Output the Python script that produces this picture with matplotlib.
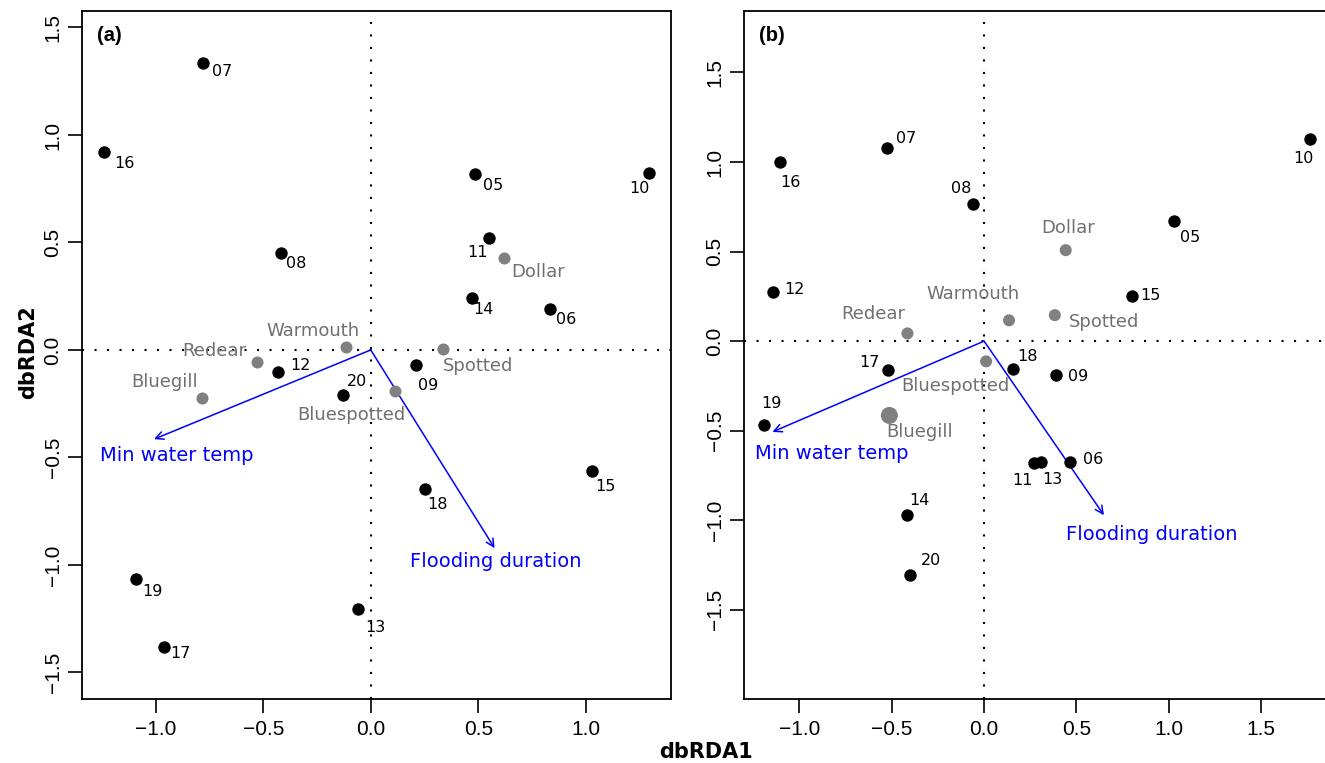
import numpy as np
import matplotlib
matplotlib.use("Agg")
import matplotlib.pyplot as plt
from matplotlib.ticker import FuncFormatter

# site scores, panel (a)
sites_a = ["07", "16", "05", "10", "11", "08", "14", "06", "12", "20", "09", "18", "15", "19", "13", "17"]
xa = [-0.782, -1.240, 0.483, 1.293, 0.552, -0.416, 0.473, 0.834, -0.430, -0.127, 0.211, 0.251, 1.027, -1.093, -0.059, -0.962]
ya = [1.335, 0.922, 0.820, 0.823, 0.521, 0.451, 0.243, 0.191, -0.102, -0.208, -0.071, -0.647, -0.564, -1.064, -1.203, -1.380]

# species scores, panel (a)
species_a = ["Warmouth", "Redear", "Bluegill", "Bluespotted", "Spotted", "Dollar"]
sxa = [-0.116, -0.530, -0.785, 0.113, 0.338, 0.622]
sya = [0.015, -0.054, -0.225, -0.189, 0.003, 0.429]

# environmental arrows, panel (a)
env_names = ["Min water temp", "Flooding duration"]
exa = [-1.008, 0.576]
eya = [-0.415, -0.922]

# site scores, panel (b)
sites_b = ["16", "07", "08", "10", "05", "12", "15", "17", "18", "09", "19", "11", "13", "06", "14", "20"]
xb = [-1.105, -0.525, -0.060, 1.765, 1.030, -1.142, 0.800, -0.520, 0.155, 0.392, -1.190, 0.268, 0.310, 0.465, -0.417, -0.403]
yb = [1.000, 1.078, 0.766, 1.128, 0.669, 0.274, 0.251, -0.162, -0.158, -0.187, -0.467, -0.680, -0.674, -0.677, -0.971, -1.307]

# species scores, panel (b)
species_b = ["Dollar", "Warmouth", "Spotted", "Redear", "Bluespotted", "Bluegill"]
sxb = [0.442, 0.135, 0.383, -0.415, 0.011, -0.513]
syb = [0.508, 0.116, 0.145, 0.043, -0.113, -0.415]
ssize_b = [75, 75, 75, 75, 75, 150]

# environmental arrows, panel (b)
exb = [-1.146, 0.649]
eyb = [-0.507, -0.972]

# label offsets in pixels (dx, dy up)
off_sites_a = {"07": (20, -9), "16": (20, -12), "05": (19, -12), "10": (-9, -15), "11": (-12, -15),
               "08": (15, -11), "14": (11, -12), "06": (16, -11), "12": (22, 6), "20": (14, 13),
               "09": (12, -20), "18": (13, -15), "15": (14, -15), "19": (17, -13), "13": (17, -19),
               "17": (17, -7)}
off_species_a = {"Warmouth": (-33, 16), "Redear": (-43, 11), "Bluegill": (-37, 16),
                 "Bluespotted": (-44, -24), "Spotted": (35, -17), "Dollar": (34, -14)}
off_env_a = [(23, -16), (1, -13)]

off_sites_b = {"16": (10, -20), "07": (19, 10), "08": (-12, 15), "10": (-7, -19), "05": (16, -16),
               "12": (21, 3), "15": (19, 1), "17": (-19, 8), "18": (15, 13), "09": (22, -2),
               "19": (7, 21), "11": (-11, -18), "13": (11, -18), "06": (23, 3), "14": (12, 15),
               "20": (21, 15)}
off_species_b = {"Dollar": (2, 22), "Warmouth": (-36, 26), "Spotted": (49, -7), "Redear": (-34, 19),
                 "Bluespotted": (-31, -25), "Bluegill": (30, -17)}
off_env_b = [(59, -22), (48, -19)]

grey = "#808080"
blue = "#0000ff"

fig = plt.figure(figsize=(13.25, 7.63), dpi=100)
ax1 = fig.add_axes([82 / 1325, 1 - 699.3 / 763, 588.7 / 1325, 688.6 / 763])
ax2 = fig.add_axes([744 / 1325, 1 - 699.3 / 763, 591 / 1325, 688.6 / 763])

fmt = FuncFormatter(lambda v, p: f"{v:.1f}".replace("-", "\u2212"))


def draw(ax, sites, x, y, species, sx, sy, ssize, ex, ey, off_s, off_sp, off_e, tag):
    ax.axhline(0, color="black", lw=1.5, ls=(0, (1, 5)), zorder=1)
    ax.axvline(0, color="black", lw=1.5, ls=(0, (1, 5)), zorder=1)
    for i in range(len(ex)):
        ax.annotate("", xy=(ex[i], ey[i]), xytext=(0, 0),
                    arrowprops=dict(arrowstyle="->", color=blue, lw=1.1, mutation_scale=14,
                                    shrinkA=0, shrinkB=0), zorder=2)
        ax.annotate(env_names[i], (ex[i], ey[i]), xytext=off_e[i], textcoords="offset pixels",
                    ha="center", va="center", color=blue, fontsize=14, family="DejaVu Sans")
    ax.scatter(sx, sy, s=ssize, color=grey, zorder=3, linewidths=0)
    for i, name in enumerate(species):
        ax.annotate(name, (sx[i], sy[i]), xytext=off_sp[name], textcoords="offset pixels",
                    ha="center", va="center", color="#707070", fontsize=13, family="DejaVu Sans")
    ax.scatter(x, y, s=80, color="black", zorder=4, linewidths=0)
    for i, name in enumerate(sites):
        ax.annotate(name, (x[i], y[i]), xytext=off_s[name], textcoords="offset pixels",
                    ha="center", va="center", color="black", fontsize=11.5, family="DejaVu Sans")
    ax.text(0.025, 0.978, tag, transform=ax.transAxes, fontsize=14.5, fontweight="bold",
            family="Liberation Sans", ha="left", va="top")
    ax.xaxis.set_major_formatter(fmt)
    ax.yaxis.set_major_formatter(fmt)
    ax.tick_params(direction="out", length=10, width=1.2, labelsize=15, pad=5,
                   labelfontfamily="Liberation Sans")
    ax.tick_params(axis="y", labelrotation=90, pad=4)
    for lab in ax.get_yticklabels():
        lab.set_va("center")
    for sp in ax.spines.values():
        sp.set_linewidth(1.3)


ax1.set_xlim(-1.343, 1.395)
ax1.set_ylim(-1.625, 1.578)
ax1.set_xticks(np.arange(-1.0, 1.01, 0.5))
ax1.set_yticks(np.arange(-1.5, 1.51, 0.5))
draw(ax1, sites_a, xa, ya, species_a, sxa, sya, 75, exa, eya,
     off_sites_a, off_species_a, off_env_a, "(a)")

ax2.set_xlim(-1.30, 1.90)
ax2.set_ylim(-2.0, 1.845)
ax2.set_xticks(np.arange(-1.0, 1.51, 0.5))
ax2.set_yticks(np.arange(-1.5, 1.51, 0.5))
draw(ax2, sites_b, xb, yb, species_b, sxb, syb, ssize_b, exb, eyb,
     off_sites_b, off_species_b, off_env_b, "(b)")

fig.text(706 / 1325, 1 - 752 / 763, "dbRDA1", ha="center", va="center",
         fontsize=15, fontweight="bold", family="DejaVu Sans")
fig.text(28 / 1325, 1 - 352 / 763, "dbRDA2", ha="center", va="center", rotation=90,
         fontsize=15, fontweight="bold", family="DejaVu Sans")

fig.savefig("out.png", dpi=100)
